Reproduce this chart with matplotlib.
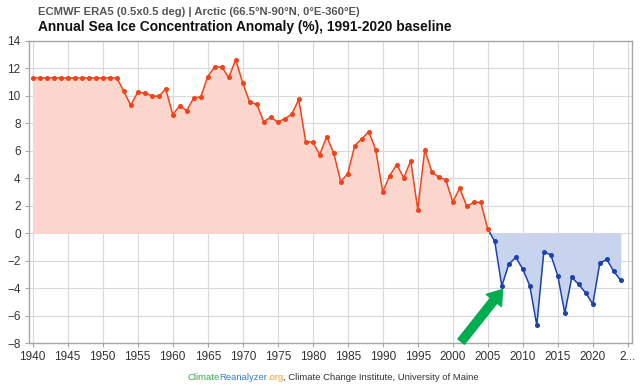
import numpy as np
import matplotlib
matplotlib.use("Agg")
import matplotlib.pyplot as plt
from matplotlib.offsetbox import TextArea, HPacker, AnchoredOffsetbox

plt.rcParams['font.family'] = ['Liberation Sans', 'DejaVu Sans']

years = list(range(1940, 2025))
anomaly = [
    11.3, 11.3, 11.3, 11.3, 11.3, 11.3, 11.3, 11.3, 11.3, 11.3,   # 1940-1949
    11.3, 11.3, 11.3, 10.35, 9.3, 10.25, 10.2, 10.0, 9.95, 10.5,   # 1950-1959
    8.63, 9.26, 8.92, 9.84, 9.91, 11.39, 12.1, 12.1, 11.33, 12.62,  # 1960-1969
    10.93, 9.52, 9.38, 8.12, 8.43, 8.09, 8.33, 8.65, 9.74, 6.64,    # 1970-1979
    6.64, 5.72, 7.03, 5.82, 3.75, 4.33, 6.37, 6.86, 7.39, 6.06,     # 1980-1989
    3.0, 4.19, 4.99, 4.02, 5.27, 1.71, 6.06, 4.48, 4.07, 3.88,      # 1990-1999
    2.28, 3.27, 1.94, 2.25, 2.23, 0.29, -0.61, -3.86, -2.26, -1.77, # 2000-2009
    -2.62, -3.83, -6.72, -1.38, -1.58, -3.11, -5.82, -3.23, -3.74, -4.37,  # 2010-2019
    -5.17, -2.18, -1.92, -2.79, -3.45,                               # 2020-2024
]
xtick_years = list(range(1940, 2030, 5))
xtick_labels = [str(y) for y in xtick_years[:-1]] + ['2...']
ytick_vals = list(range(-8, 15, 2))

subtitle = "ECMWF ERA5 (0.5x0.5 deg) | Arctic (66.5°N-90°N, 0°E-360°E)"
title = "Annual Sea Ice Concentration Anomaly (%), 1991-2020 baseline"
highlight_year = 2007

RED = '#ef4419'
RED_FILL = '#fcd6cc'
BLUE = '#1c43ad'
BLUE_FILL = '#c8d3ee'
GREEN = '#00ad4f'

x = np.array(years, dtype=float)
y = np.array(anomaly, dtype=float)

# insert zero-crossing points so line colours switch exactly at 0
xs, ys = [x[0]], [y[0]]
for i in range(len(x) - 1):
    if y[i] * y[i + 1] < 0:
        xc = x[i] + (0 - y[i]) / (y[i + 1] - y[i]) * (x[i + 1] - x[i])
        xs.append(xc); ys.append(0.0)
    xs.append(x[i + 1]); ys.append(y[i + 1])
xs = np.array(xs); ys = np.array(ys)

fig = plt.figure(figsize=(6.4, 3.86), dpi=100)
ax = fig.add_axes([29/640, 1-343/386, (632-29)/640, (343-40.8)/386])

ax.fill_between(xs, ys, 0, where=ys >= 0, interpolate=True, color=RED_FILL, lw=0, zorder=1)
ax.fill_between(xs, ys, 0, where=ys <= 0, interpolate=True, color=BLUE_FILL, lw=0, zorder=1)

pos = np.ma.masked_where(ys < 0, ys)
neg = np.ma.masked_where(ys > 0, ys)
ax.plot(xs, pos, color=RED, lw=1.1, zorder=3)
ax.plot(xs, neg, color=BLUE, lw=1.1, zorder=3)
ax.plot(x[y >= 0], y[y >= 0], ls='none', marker='o', ms=2.6, color=RED, zorder=4)
ax.plot(x[y < 0], y[y < 0], ls='none', marker='o', ms=2.6, color=BLUE, zorder=4)

ax.set_xlim(1939.47, 2025.6)
ax.set_ylim(-8, 14)
ax.set_xticks(xtick_years)
ax.set_xticklabels(xtick_labels)
ax.set_yticks(ytick_vals)
ax.grid(True, color='#d9d9d9', lw=0.8, zorder=0)
ax.set_axisbelow(True)
for s in ax.spines.values():
    s.set_color('#a6a6a6')
    s.set_linewidth(1.0)
ax.tick_params(axis='both', colors='#a6a6a6', labelcolor='#333333', labelsize=8.5, length=3, width=0.8)
ax.tick_params(axis='x', pad=3)
ax.tick_params(axis='y', pad=3)

hy = anomaly[years.index(highlight_year)]
ax.annotate('', xy=(highlight_year + 0.1, hy - 0.25), xytext=(2001.2, -7.9),
            arrowprops=dict(arrowstyle='simple,head_width=1.4,head_length=1.0,tail_width=0.6',
                            color=GREEN, mutation_scale=10, shrinkA=0, shrinkB=0),
            annotation_clip=False, zorder=5)

fig.text(38/640, 1-12/386, subtitle, fontsize=8.1, fontweight='bold', color='#555555', va='center', ha='left')
fig.text(38/640, 1-27/386, title, fontsize=9.9, fontweight='bold', color='#111111', va='center', ha='left')

parts = [("Climate", '#3aa74d'), ("Reanalyzer", '#3a7ec2'), (".org", '#f19a34'),
         (", Climate Change Institute, University of Maine", '#333333')]
boxes = [TextArea(t, textprops=dict(color=c, fontsize=6.8)) for t, c in parts]
pack = HPacker(children=boxes, pad=0, sep=0, align='baseline')
ab = AnchoredOffsetbox(loc='center', child=pack, frameon=False, pad=0, borderpad=0,
                       bbox_to_anchor=(333/640, 1-377/386), bbox_transform=fig.transFigure)
fig.add_artist(ab)

fig.savefig('out.png', dpi=100)
